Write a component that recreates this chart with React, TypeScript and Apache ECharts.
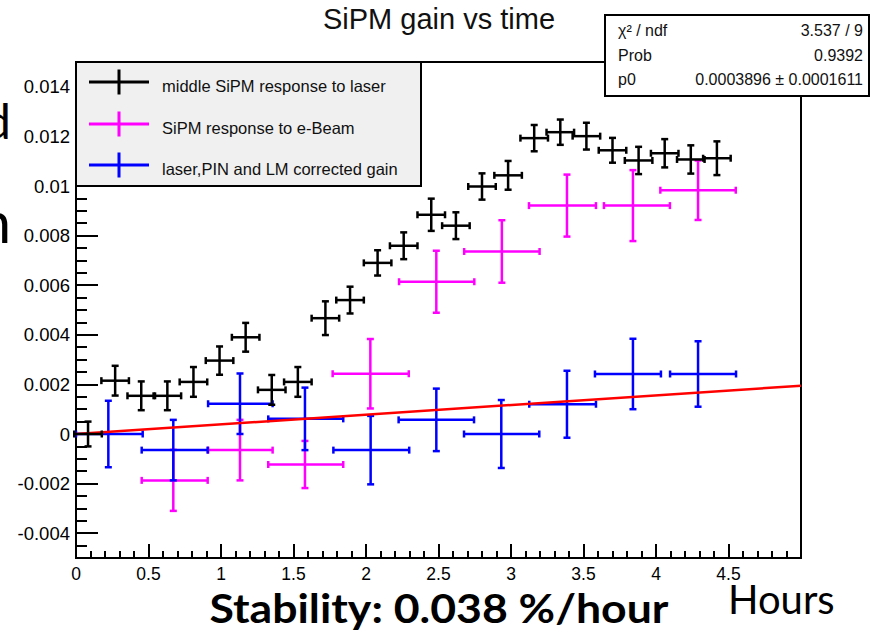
import React, { useEffect, useRef } from "react";
import * as echarts from "echarts";

// ---------- data ----------
const laserTime = [0.083, 0.27, 0.45, 0.63, 0.81, 0.99, 1.17, 1.35, 1.53, 1.72, 1.89, 2.08, 2.26, 2.45, 2.62, 2.8, 2.98, 3.16, 3.34, 3.52, 3.7, 3.88, 4.06, 4.24, 4.42];
const laserGain = [0, 0.00215, 0.00154, 0.00154, 0.0021, 0.00296, 0.0039, 0.00178, 0.0021, 0.00467, 0.0054, 0.0069, 0.00759, 0.00884, 0.0084, 0.00998, 0.01043, 0.01193, 0.01217, 0.01201, 0.01144, 0.01103, 0.01132, 0.01107, 0.01112];
const laserTimeErr = [0.095, 0.095, 0.095, 0.095, 0.095, 0.095, 0.095, 0.095, 0.095, 0.095, 0.095, 0.095, 0.095, 0.095, 0.095, 0.095, 0.095, 0.095, 0.095, 0.095, 0.095, 0.095, 0.095, 0.095, 0.095];
const laserGainErr = [0.0005, 0.0006, 0.00058, 0.00058, 0.0006, 0.00057, 0.00058, 0.0006, 0.0006, 0.00068, 0.00054, 0.00051, 0.00054, 0.00065, 0.00054, 0.00053, 0.00058, 0.00053, 0.00051, 0.00054, 0.0005, 0.00055, 0.00057, 0.00057, 0.00068];

const beamTime = [0.671, 1.131, 1.579, 2.03, 2.485, 2.937, 3.386, 3.841, 4.29];
const beamTimeErrLow = [0.218, 0.22, 0.253, 0.26, 0.257, 0.26, 0.262, 0.2, 0.26];
const beamTimeErrHigh = [0.237, 0.225, 0.264, 0.265, 0.262, 0.26, 0.2, 0.255, 0.26];
const beamGain = [-0.00187, -0.00065, -0.00123, 0.00243, 0.00614, 0.00736, 0.00921, 0.00921, 0.00983];
const beamGainErr = [0.00123, 0.00122, 0.00095, 0.0014, 0.00125, 0.00126, 0.00125, 0.00143, 0.0012];

const corrTime = [0.223, 0.671, 1.131, 1.579, 2.032, 2.485, 2.933, 3.386, 3.841, 4.29];
const corrTimeErrLow = [0.223, 0.218, 0.22, 0.253, 0.257, 0.26, 0.257, 0.26, 0.262, 0.193];
const corrTimeErrHigh = [0.237, 0.237, 0.225, 0.264, 0.266, 0.26, 0.262, 0.2, 0.193, 0.262];
const corrGain = [0, -0.00065, 0.00122, 0.00061, -0.00065, 0.00057, 0, 0.0012, 0.00242, 0.00242];
const corrGainErr = [0.00134, 0.00122, 0.00122, 0.00126, 0.00138, 0.00126, 0.00137, 0.00135, 0.00142, 0.00132];

const fitP0 = 0.0003896;
const fitRange = [0, 5];

const titleText = "SiPM gain vs time";
const legendLabels = ["middle SiPM response to laser", "SiPM response to e-Beam", "laser,PIN and LM corrected gain"];
const legendColors = ["#000000", "#ff00ff", "#0000ff"];
const statNames = ["χ² / ndf", "Prob", "p0"];
const statValues = ["3.537 / 9", "0.9392", "0.0003896 ± 0.0001611"];
const xRange = [0, 5];
const yRange = [-0.005, 0.015];

const FONT = "'Liberation Sans', Arial, Helvetica, sans-serif";

function errRender(color: string, width: number) {
  return (params: any, api: any) => {
    const x = api.value(0);
    const y = api.value(1);
    const xl = api.value(2);
    const xh = api.value(3);
    const yl = api.value(4);
    const yh = api.value(5);
    const L = api.coord([x - xl, y]);
    const R = api.coord([x + xh, y]);
    const T = api.coord([x, y + yh]);
    const B = api.coord([x, y - yl]);
    const cap = 3.5;
    const style = { stroke: color, lineWidth: width, fill: null };
    const seg = (x1: number, y1: number, x2: number, y2: number) => ({
      type: "line",
      shape: { x1, y1, x2, y2 },
      style,
    });
    return {
      type: "group",
      children: [
        seg(L[0], L[1], R[0], R[1]),
        seg(T[0], T[1], B[0], B[1]),
        seg(L[0], L[1] - cap, L[0], L[1] + cap),
        seg(R[0], R[1] - cap, R[0], R[1] + cap),
        seg(T[0] - cap, T[1], T[0] + cap, T[1]),
        seg(B[0] - cap, B[1], B[0] + cap, B[1]),
      ],
    };
  };
}

export default function App() {
  const ref = useRef<HTMLDivElement>(null);
  useEffect(() => {
    if (!ref.current) return;
    const chart = echarts.init(ref.current, null, { renderer: "svg" });

    const laserData = laserTime.map((t, i) => [t, laserGain[i], laserTimeErr[i], laserTimeErr[i], laserGainErr[i], laserGainErr[i]]);
    const beamData = beamTime.map((t, i) => [t, beamGain[i], beamTimeErrLow[i], beamTimeErrHigh[i], beamGainErr[i], beamGainErr[i]]);
    const corrData = corrTime.map((t, i) => [t, corrGain[i], corrTimeErrLow[i], corrTimeErrHigh[i], corrGainErr[i], corrGainErr[i]]);
    const fitData = fitRange.map((t) => [t, fitP0 * t]);

    const legendRowY = [82, 124, 165];
    const legendGraphics: any[] = [
      {
        type: "rect",
        z: 100,
        shape: { x: 76, y: 62, width: 345, height: 124 },
        style: { fill: "#f0f0f0", stroke: "#000", lineWidth: 2 },
      },
    ];
    legendLabels.forEach((lab, i) => {
      const cy = legendRowY[i];
      legendGraphics.push(
        { type: "line", z: 101, shape: { x1: 89, y1: cy, x2: 149, y2: cy }, style: { stroke: legendColors[i], lineWidth: 3 } },
        { type: "line", z: 101, shape: { x1: 119, y1: cy - 12.5, x2: 119, y2: cy + 12.5 }, style: { stroke: legendColors[i], lineWidth: 3 } },
        {
          type: "text",
          z: 101,
          x: 162,
          y: cy + 3.5,
          style: { text: lab, fill: "#111", font: `16.5px ${FONT}`, textVerticalAlign: "middle" },
        }
      );
    });

    const statRowY = [30, 55, 79];
    const statGraphics: any[] = [
      {
        type: "rect",
        z: 100,
        shape: { x: 605, y: 15, width: 264, height: 81 },
        style: { fill: "#fff", stroke: "#000", lineWidth: 2 },
      },
    ];
    statNames.forEach((n, i) => {
      statGraphics.push(
        { type: "text", z: 101, x: 618, y: statRowY[i], style: { text: n, fill: "#111", font: `16px ${FONT}`, textVerticalAlign: "middle" } },
        { type: "text", z: 101, x: 863, y: statRowY[i], style: { text: statValues[i], fill: "#111", font: `16px ${FONT}`, textAlign: "right", textVerticalAlign: "middle" } }
      );
    });

    const axisLineStyle = { color: "#000", width: 2 };

    const option: any = {
      animation: false,
      backgroundColor: "#fff",
      grid: { left: 76, right: 70, top: 62, bottom: 79, show: true, borderColor: "#000", borderWidth: 2, backgroundColor: "transparent" },
      xAxis: {
        type: "value",
        min: xRange[0],
        max: xRange[1],
        interval: 0.5,
        axisLine: { show: true, onZero: false, lineStyle: axisLineStyle },
        axisTick: { show: true, inside: true, length: 14, lineStyle: axisLineStyle },
        minorTick: { show: true, splitNumber: 5, length: 7, lineStyle: axisLineStyle },
        axisLabel: { showMaxLabel: false, color: "#000", fontSize: 17.5, fontFamily: FONT, margin: 7 },
        splitLine: { show: false },
      },
      yAxis: [
        {
          type: "value",
          min: yRange[0],
          max: yRange[1],
          splitNumber: 10,
          position: "left",
          axisLine: { show: true, onZero: false, lineStyle: axisLineStyle },
          axisTick: { show: true, inside: true, length: 22, lineStyle: axisLineStyle },
          axisLabel: { showMinLabel: false, showMaxLabel: false, color: "#000", fontSize: 18.5, fontFamily: FONT, margin: 6 },
          splitLine: { show: false },
        },
        {
          type: "value",
          min: yRange[0],
          max: yRange[1],
          interval: 0.0005,
          position: "left",
          offset: 0,
          axisLine: { show: false, onZero: false },
          axisTick: { show: true, inside: true, length: 11, lineStyle: axisLineStyle },
          axisLabel: { show: false },
          splitLine: { show: false },
        },
      ],
      series: [
        {
          name: legendLabels[1],
          type: "custom",
          renderItem: errRender("#ff00ff", 2.5),
          data: beamData,
          encode: { x: 0, y: 1 },
          z: 2,
        },
        {
          name: legendLabels[2],
          type: "custom",
          renderItem: errRender("#0000ff", 2.5),
          data: corrData,
          encode: { x: 0, y: 1 },
          z: 3,
        },
        {
          name: "fit",
          type: "line",
          data: fitData,
          showSymbol: false,
          symbol: "none",
          lineStyle: { color: "#ff0000", width: 2.5 },
          z: 4,
        },
        {
          name: legendLabels[0],
          type: "custom",
          renderItem: errRender("#000000", 2.5),
          data: laserData,
          encode: { x: 0, y: 1 },
          z: 5,
        },
      ],
      graphic: [
        {
          type: "text",
          x: 439,
          y: 19,
          style: { text: titleText, fill: "#111", font: `29px ${FONT}`, textAlign: "center", textVerticalAlign: "middle" },
        },
        ...legendGraphics,
        ...statGraphics,
        {
          type: "text",
          x: 439,
          y: 607,
          scaleX: 1.115,
          originX: 0,
          originY: 0,
          style: { text: "Stability: 0.038 %/hour", fill: "#000", font: `bold 40px Lato, 'Open Sans', sans-serif`, textAlign: "center", textVerticalAlign: "middle" },
        },
        {
          type: "text",
          x: 728,
          y: 599,
          style: { text: "Hours", fill: "#000", font: `40px Lato, 'Open Sans', sans-serif`, textVerticalAlign: "middle" },
        },
        {
          type: "text",
          x: 11,
          y: 120,
          style: { text: "d", fill: "#000", font: `48px Lato, sans-serif`, textAlign: "right", textVerticalAlign: "middle" },
        },
        {
          type: "text",
          x: 11,
          y: 220,
          style: { text: "n", fill: "#000", font: `58px Lato, sans-serif`, textAlign: "right", textVerticalAlign: "middle" },
        },
      ],
    };
    chart.setOption(option);
    return () => chart.dispose();
  }, []);
  return <div ref={ref} style={{ position: "fixed", left: 0, top: 0, width: 871, height: 637, background: "#fff" }} />;
}
